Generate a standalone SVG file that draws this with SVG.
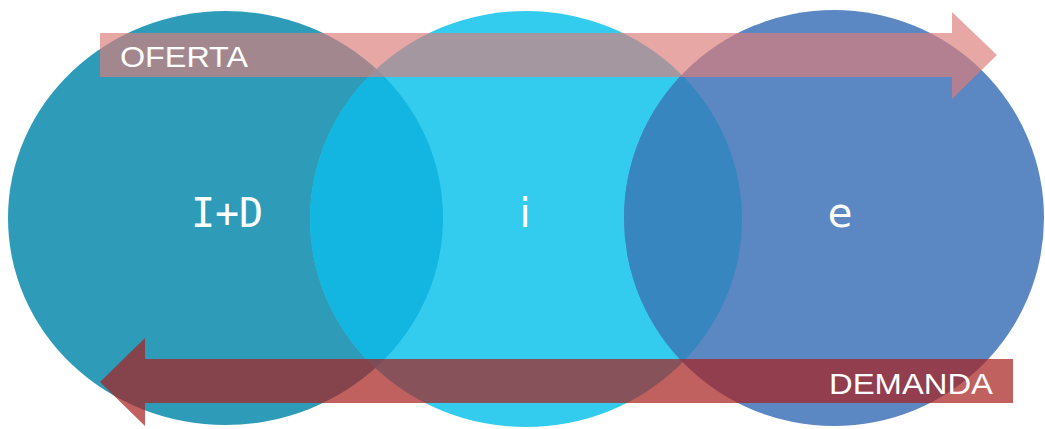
<svg xmlns="http://www.w3.org/2000/svg" width="1045" height="429" viewBox="0 0 1045 429">
  <style>
    .lbl { font-family: "DejaVu Sans Mono", "Liberation Mono", monospace; font-size: 40px; fill: #ffffff; text-anchor: middle; }
    .lbl2 { font-family: "DejaVu Sans", "Liberation Sans", sans-serif; font-size: 40px; fill: #ffffff; text-anchor: middle; }
    .arrlbl { font-family: "Liberation Sans", Arial, sans-serif; font-size: 30px; fill: #ffffff; }
  </style>
  <defs>
    <clipPath id="clipC2">
      <ellipse cx="526" cy="219" rx="216" ry="208"/>
    </clipPath>
  </defs>
  <rect width="1045" height="429" fill="#ffffff"/>
  <g id="node-id">
    <ellipse cx="225.5" cy="218" rx="217.5" ry="207" fill="#2e9cb8"/>
  </g>
  <g id="node-i">
    <ellipse cx="526" cy="219" rx="216" ry="208" fill="#33ccee"/>
    <ellipse cx="225.5" cy="218" rx="217.5" ry="207" fill="#12b6e0" clip-path="url(#clipC2)"/>
  </g>
  <g id="node-e">
    <ellipse cx="834" cy="218" rx="210" ry="208" fill="#5b87c2"/>
    <ellipse cx="834" cy="218" rx="210" ry="208" fill="#3786c0" clip-path="url(#clipC2)"/>
  </g>
  <g id="connectors">
    <polygon id="oferta" points="100,33 952,33 952,12 997,55 952,99 952,77 100,77" fill="#dc7e7a" fill-opacity="0.68"/>
    <polygon id="demanda" points="1013,359 145,359 145,338 100,382 145,426 145,403 1013,403" fill="#a82321" fill-opacity="0.72"/>
    <text class="arrlbl" x="120" y="67" textLength="128" lengthAdjust="spacingAndGlyphs">OFERTA</text>
    <text class="arrlbl" x="829" y="394" textLength="164" lengthAdjust="spacingAndGlyphs">DEMANDA</text>
  </g>
  <g id="labels">
    <text class="lbl" x="227" y="227">I+D</text>
    <text class="lbl2" x="525" y="227">i</text>
    <text class="lbl2" x="840" y="227">e</text>
  </g>
</svg>
